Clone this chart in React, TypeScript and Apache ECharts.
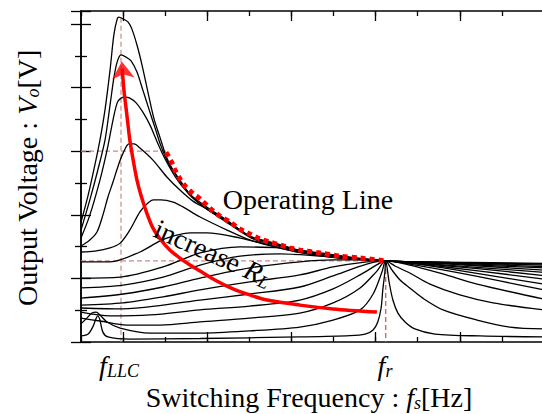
import React, { useEffect, useRef } from "react";
import * as echarts from "echarts";

// x: tick units along the frequency axis (0..11), y: tick units along the voltage axis (0..10.41)
const fLLC = 0.95;
const fR = 7.24;
const unityGain = 2.55;
const peakGainRef = 6.0;
const peakRefEnd = 2.02;
const xMajorTicks = [1, 3, 5, 7, 9];

const curve1 = [[0,3.77],[0.17,4.62],[0.33,5.57],[0.45,6.35],[0.57,7.3],[0.69,8.55],[0.78,9.65],[0.86,10.16],[0.9,10.22],[1.0,10.16],[1.12,10.06],[1.21,9.84],[1.33,9.34],[1.45,8.71],[1.59,7.86],[1.73,7.04],[1.88,6.42],[2.02,5.85],[2.16,5.47],[2.35,5.09],[2.59,4.65],[2.95,4.28],[3.42,3.87],[4.01,3.33],[4.61,3.11],[5.2,2.89],[6.15,2.69],[7.24,2.55],[8.76,2.51],[11,2.47]];
const curve2 = [[0,3.52],[0.21,4.47],[0.4,5.41],[0.57,6.35],[0.69,7.45],[0.78,8.3],[0.86,8.81],[0.95,9.03],[1.07,8.96],[1.19,8.84],[1.33,8.49],[1.47,7.92],[1.62,7.3],[1.76,6.73],[1.9,6.16],[2.04,5.72],[2.19,5.38],[2.38,5.0],[2.61,4.59],[2.97,4.21],[3.44,3.84],[4.04,3.3],[4.63,3.08],[5.2,2.86],[6.15,2.67],[7.24,2.55],[8.76,2.5],[11,2.45]];
const curve3 = [[0,3.27],[0.21,3.99],[0.45,5.09],[0.62,6.04],[0.76,6.98],[0.86,7.52],[0.95,7.67],[1.05,7.7],[1.16,7.67],[1.31,7.52],[1.47,7.23],[1.64,6.82],[1.81,6.29],[1.95,5.88],[2.09,5.53],[2.23,5.22],[2.42,4.87],[2.66,4.53],[3.02,4.15],[3.49,3.77],[4.09,3.27],[4.68,3.05],[5.2,2.85],[6.15,2.67],[7.24,2.55],[8.76,2.49],[11,2.42]];
const curve4 = [[0,3.02],[0.21,3.21],[0.38,3.46],[0.52,3.99],[0.64,4.56],[0.76,5.03],[0.88,5.53],[1.0,5.94],[1.14,6.23],[1.26,6.23],[1.4,6.1],[1.71,5.72],[2.04,5.19],[2.35,4.78],[2.66,4.43],[2.99,4.18],[3.49,3.74],[4.09,3.24],[4.68,3.02],[5.2,2.83],[6.15,2.66],[7.24,2.55],[8.76,2.48],[11,2.37]];
const curve5 = [[0,2.83],[0.33,2.86],[0.69,2.96],[0.93,3.11],[1.16,3.52],[1.4,4.09],[1.59,4.37],[1.72,4.47],[1.9,4.47],[2.19,4.4],[2.42,4.25],[2.83,3.93],[3.47,3.52],[4.01,3.21],[4.61,2.99],[5.2,2.81],[6.15,2.64],[7.24,2.55],[8.05,2.51],[9.48,2.42],[11,2.33]];
const curve6 = [[0,2.52],[0.69,2.52],[1.4,2.83],[1.88,3.18],[2.19,3.33],[2.59,3.43],[2.99,3.43],[3.78,3.27],[4.56,3.02],[5.2,2.83],[6.15,2.64],[7.24,2.55],[8.05,2.5],[9.48,2.39],[11,2.26]];
const curve7 = [[0,2.01],[0.93,2.04],[1.95,2.36],[2.83,2.8],[3.78,2.99],[4.73,2.96],[5.68,2.8],[6.63,2.63],[7.24,2.55],[8.05,2.48],[9.48,2.34],[11,2.19]];
const curve8 = [[0,1.7],[1.0,1.79],[1.95,2.04],[2.83,2.42],[3.78,2.7],[4.73,2.77],[5.68,2.7],[6.63,2.61],[7.24,2.55],[8.05,2.47],[9.48,2.3],[11,2.09]];
const curve9 = [[0,1.38],[1.0,1.51],[1.95,1.73],[2.83,2.01],[4.01,2.33],[5.2,2.52],[5.99,2.58],[6.79,2.58],[7.24,2.55],[8.05,2.45],[9.48,2.23],[11,1.98]];
const curve10 = [[0,1.16],[1.0,1.23],[1.95,1.42],[2.83,1.64],[4.01,1.89],[5.2,2.11],[5.99,2.36],[6.79,2.52],[7.24,2.55],[8.05,2.44],[9.48,2.14],[11,1.82]];
const curve11 = [[0,1.07],[1.0,1.04],[1.95,1.16],[2.83,1.32],[4.01,1.51],[5.2,1.73],[5.99,2.08],[6.79,2.45],[7.24,2.55],[7.81,2.45],[8.76,2.23],[9.95,1.92],[11,1.64]];
const curve12 = [[0,0.94],[0.69,0.82],[1.64,0.85],[2.83,1.01],[4.01,1.13],[5.2,1.32],[5.99,1.67],[6.63,2.11],[7.1,2.48],[7.24,2.55],[7.81,2.42],[8.6,2.14],[9.41,1.82],[11,1.35]];
const curve13 = [[0,0.75],[0.45,0.66],[1.16,0.53],[1.88,0.53],[2.83,0.63],[4.01,0.75],[5.2,0.91],[5.99,1.23],[6.63,1.7],[7.03,2.23],[7.24,2.55],[7.46,2.39],[7.81,2.17],[8.29,1.82],[9.0,1.48],[9.79,1.23],[11,1.01]];
const curve14 = [[0,0.57],[0.14,0.75],[0.26,0.91],[0.36,0.94],[0.45,0.85],[0.62,0.63],[0.93,0.44],[1.64,0.28],[2.83,0.28],[4.01,0.35],[5.2,0.47],[5.99,0.69],[6.63,1.01],[6.94,1.51],[7.15,2.2],[7.24,2.55],[7.39,2.26],[7.58,1.95],[7.81,1.7],[8.12,1.38],[8.6,1.01],[9.41,0.69],[10.19,0.47],[11,0.41]];
const curve15 = [[0,0.19],[0.17,0.25],[0.29,0.5],[0.36,0.75],[0.4,0.82],[0.45,0.69],[0.52,0.31],[0.64,0.16],[1.16,0.09],[2.83,0.11],[5.2,0.16],[6.39,0.2],[6.75,0.25],[6.94,0.38],[7.05,0.63],[7.13,1.07],[7.17,1.64],[7.22,2.2],[7.24,2.55],[7.32,1.89],[7.41,1.32],[7.53,0.91],[7.7,0.63],[7.93,0.41],[8.41,0.25],[9.48,0.19],[11,0.16]];

const gainCurves = [curve1, curve2, curve3, curve4, curve5, curve6, curve7, curve8, curve9, curve10, curve11, curve12, curve13, curve14, curve15];

const operatingLine = [[2.02,5.97],[2.14,5.69],[2.23,5.41],[2.35,5.13],[2.47,4.91],[2.64,4.69],[2.83,4.5],[3.06,4.21],[3.3,3.96],[3.54,3.77],[3.78,3.55],[4.01,3.4],[4.25,3.24],[4.49,3.14],[4.73,3.05],[4.96,2.96],[5.2,2.89],[5.68,2.8],[6.15,2.7],[6.63,2.64],[7.24,2.55]];

const increaseArrow = [[7.03,0.94],[5.99,1.04],[5.2,1.16],[4.42,1.32],[4.01,1.48],[3.61,1.67],[3.18,1.95],[2.83,2.23],[2.59,2.42],[2.35,2.64],[2.11,2.89],[1.88,3.24],[1.71,3.58],[1.57,4.03],[1.43,4.59],[1.33,5.09],[1.24,5.72],[1.16,6.35],[1.09,7.14],[1.02,7.92],[0.98,8.6]];
const arrowHead = [[0.97, 8.82]];

const SERIF = '"Liberation Serif", "Times New Roman", Times, serif';

const rich = {
  n: { fontFamily: SERIF, fontSize: 28, lineHeight: 30, fill: "#000" },
  i: { fontFamily: SERIF, fontSize: 28, lineHeight: 30, fontStyle: "italic", fill: "#000" },
  s: { fontFamily: SERIF, fontSize: 18, lineHeight: 12, fontStyle: "italic", verticalAlign: "bottom", fill: "#000" },
};

const axisLineStyle = { show: true, lineStyle: { color: "#000", width: 1.5 } };

function xAxisDef(position: "top" | "bottom", major: boolean) {
  return {
    type: "value",
    position,
    min: 0,
    max: 11,
    interval: 1,
    axisLine: major ? { show: false } : axisLineStyle,
    axisTick: major
      ? { show: true, inside: true, length: 10, customValues: xMajorTicks, lineStyle: { color: "#000", width: 1.3 } }
      : { show: true, inside: true, length: 5, lineStyle: { color: "#000", width: 1.3 } },
    axisLabel: { show: false },
    splitLine: { show: false },
  };
}

function yAxisDef(position: "left" | "right") {
  return {
    type: "value",
    position,
    min: 0,
    max: 10.41,
    interval: 2,
    axisLine: axisLineStyle,
    axisTick: { show: true, inside: true, length: 10, lineStyle: { color: "#000", width: 1.3 } },
    minorTick: { show: true, splitNumber: 2, length: 6, lineStyle: { color: "#000", width: 1.3 } },
    axisLabel: { show: false },
    splitLine: { show: false },
  };
}

function dashed(data: number[][], color: string) {
  return {
    type: "line",
    data,
    symbol: "none",
    silent: true,
    lineStyle: { color, width: 1.2, type: [5, 3] },
    z: 1,
  };
}

export default function App() {
  const ref = useRef<HTMLDivElement>(null);
  useEffect(() => {
    if (!ref.current) return;
    const chart = echarts.init(ref.current, undefined, { renderer: "svg" });
    const series: any[] = [];
    series.push(dashed([[fLLC, 10.2], [fLLC, 0]], "#c98a8a"));
    series.push(dashed([[0, peakGainRef], [peakRefEnd, peakGainRef]], "#c98a8a"));
    series.push(dashed([[0, unityGain], [fR, unityGain]], "#c98a8a"));
    series.push(dashed([[fR, unityGain], [fR, 0]], "#d94a4a"));
    gainCurves.forEach((c) => {
      series.push({
        type: "line",
        data: c,
        symbol: "none",
        smooth: 0.3,
        silent: true,
        lineStyle: { color: "#000", width: 1.3 },
        z: 2,
      });
    });
    series.push({
      type: "line",
      data: operatingLine,
      symbol: "none",
      smooth: 0.3,
      silent: true,
      lineStyle: { color: "#ff0000", width: 5, type: [5, 4], cap: "butt" },
      z: 3,
    });
    series.push({
      type: "line",
      data: increaseArrow,
      symbol: "none",
      smooth: 0.3,
      silent: true,
      lineStyle: { color: "#ff0000", width: 3.5 },
      z: 4,
    });
    series.push({
      type: "scatter",
      data: arrowHead,
      symbol: "arrow",
      symbolSize: [17, 17],
      symbolRotate: 5,
      silent: true,
      itemStyle: { color: "#ff0000" },
      z: 5,
    });

    chart.setOption({
      animation: false,
      backgroundColor: "#fff",
      grid: { left: 81, top: 11, right: 6, bottom: 72, containLabel: false },
      xAxis: [xAxisDef("bottom", false), xAxisDef("bottom", true), xAxisDef("top", false), xAxisDef("top", true)],
      yAxis: [yAxisDef("left"), yAxisDef("right")],
      series,
      graphic: [
        { type: "text", x: 308, y: 199, z: 100, style: { text: "Operating Line", font: `28px ${SERIF}`, fill: "#000", align: "center", verticalAlign: "middle" } },
        { type: "text", x: 213, y: 253, rotation: -0.42, z: 100, style: { text: "{n|increase }{i|R}{s|L}", rich, fill: "#000", align: "center", verticalAlign: "middle" } },
        { type: "text", x: 27, y: 178, rotation: Math.PI / 2, z: 100, style: { text: "{n|Output Voltage : }{i|V}{s|o}{n|[V]}", rich, fill: "#000", align: "center", verticalAlign: "middle" } },
        { type: "text", x: 309, y: 397, z: 100, style: { text: "{n|Switching Frequency : }{i|f}{s|s}{n|[Hz]}", rich, fill: "#000", align: "center", verticalAlign: "middle" } },
        { type: "text", x: 119, y: 365, z: 100, style: { text: "{i|f}{s|LLC}", rich, fill: "#000", align: "center", verticalAlign: "middle" } },
        { type: "text", x: 385, y: 365, z: 100, style: { text: "{i|f}{s|r}", rich, fill: "#000", align: "center", verticalAlign: "middle" } },
      ],
    });
    return () => chart.dispose();
  }, []);
  return <div ref={ref} style={{ position: "fixed", left: 0, top: 0, width: 550, height: 414 }} />;
}
